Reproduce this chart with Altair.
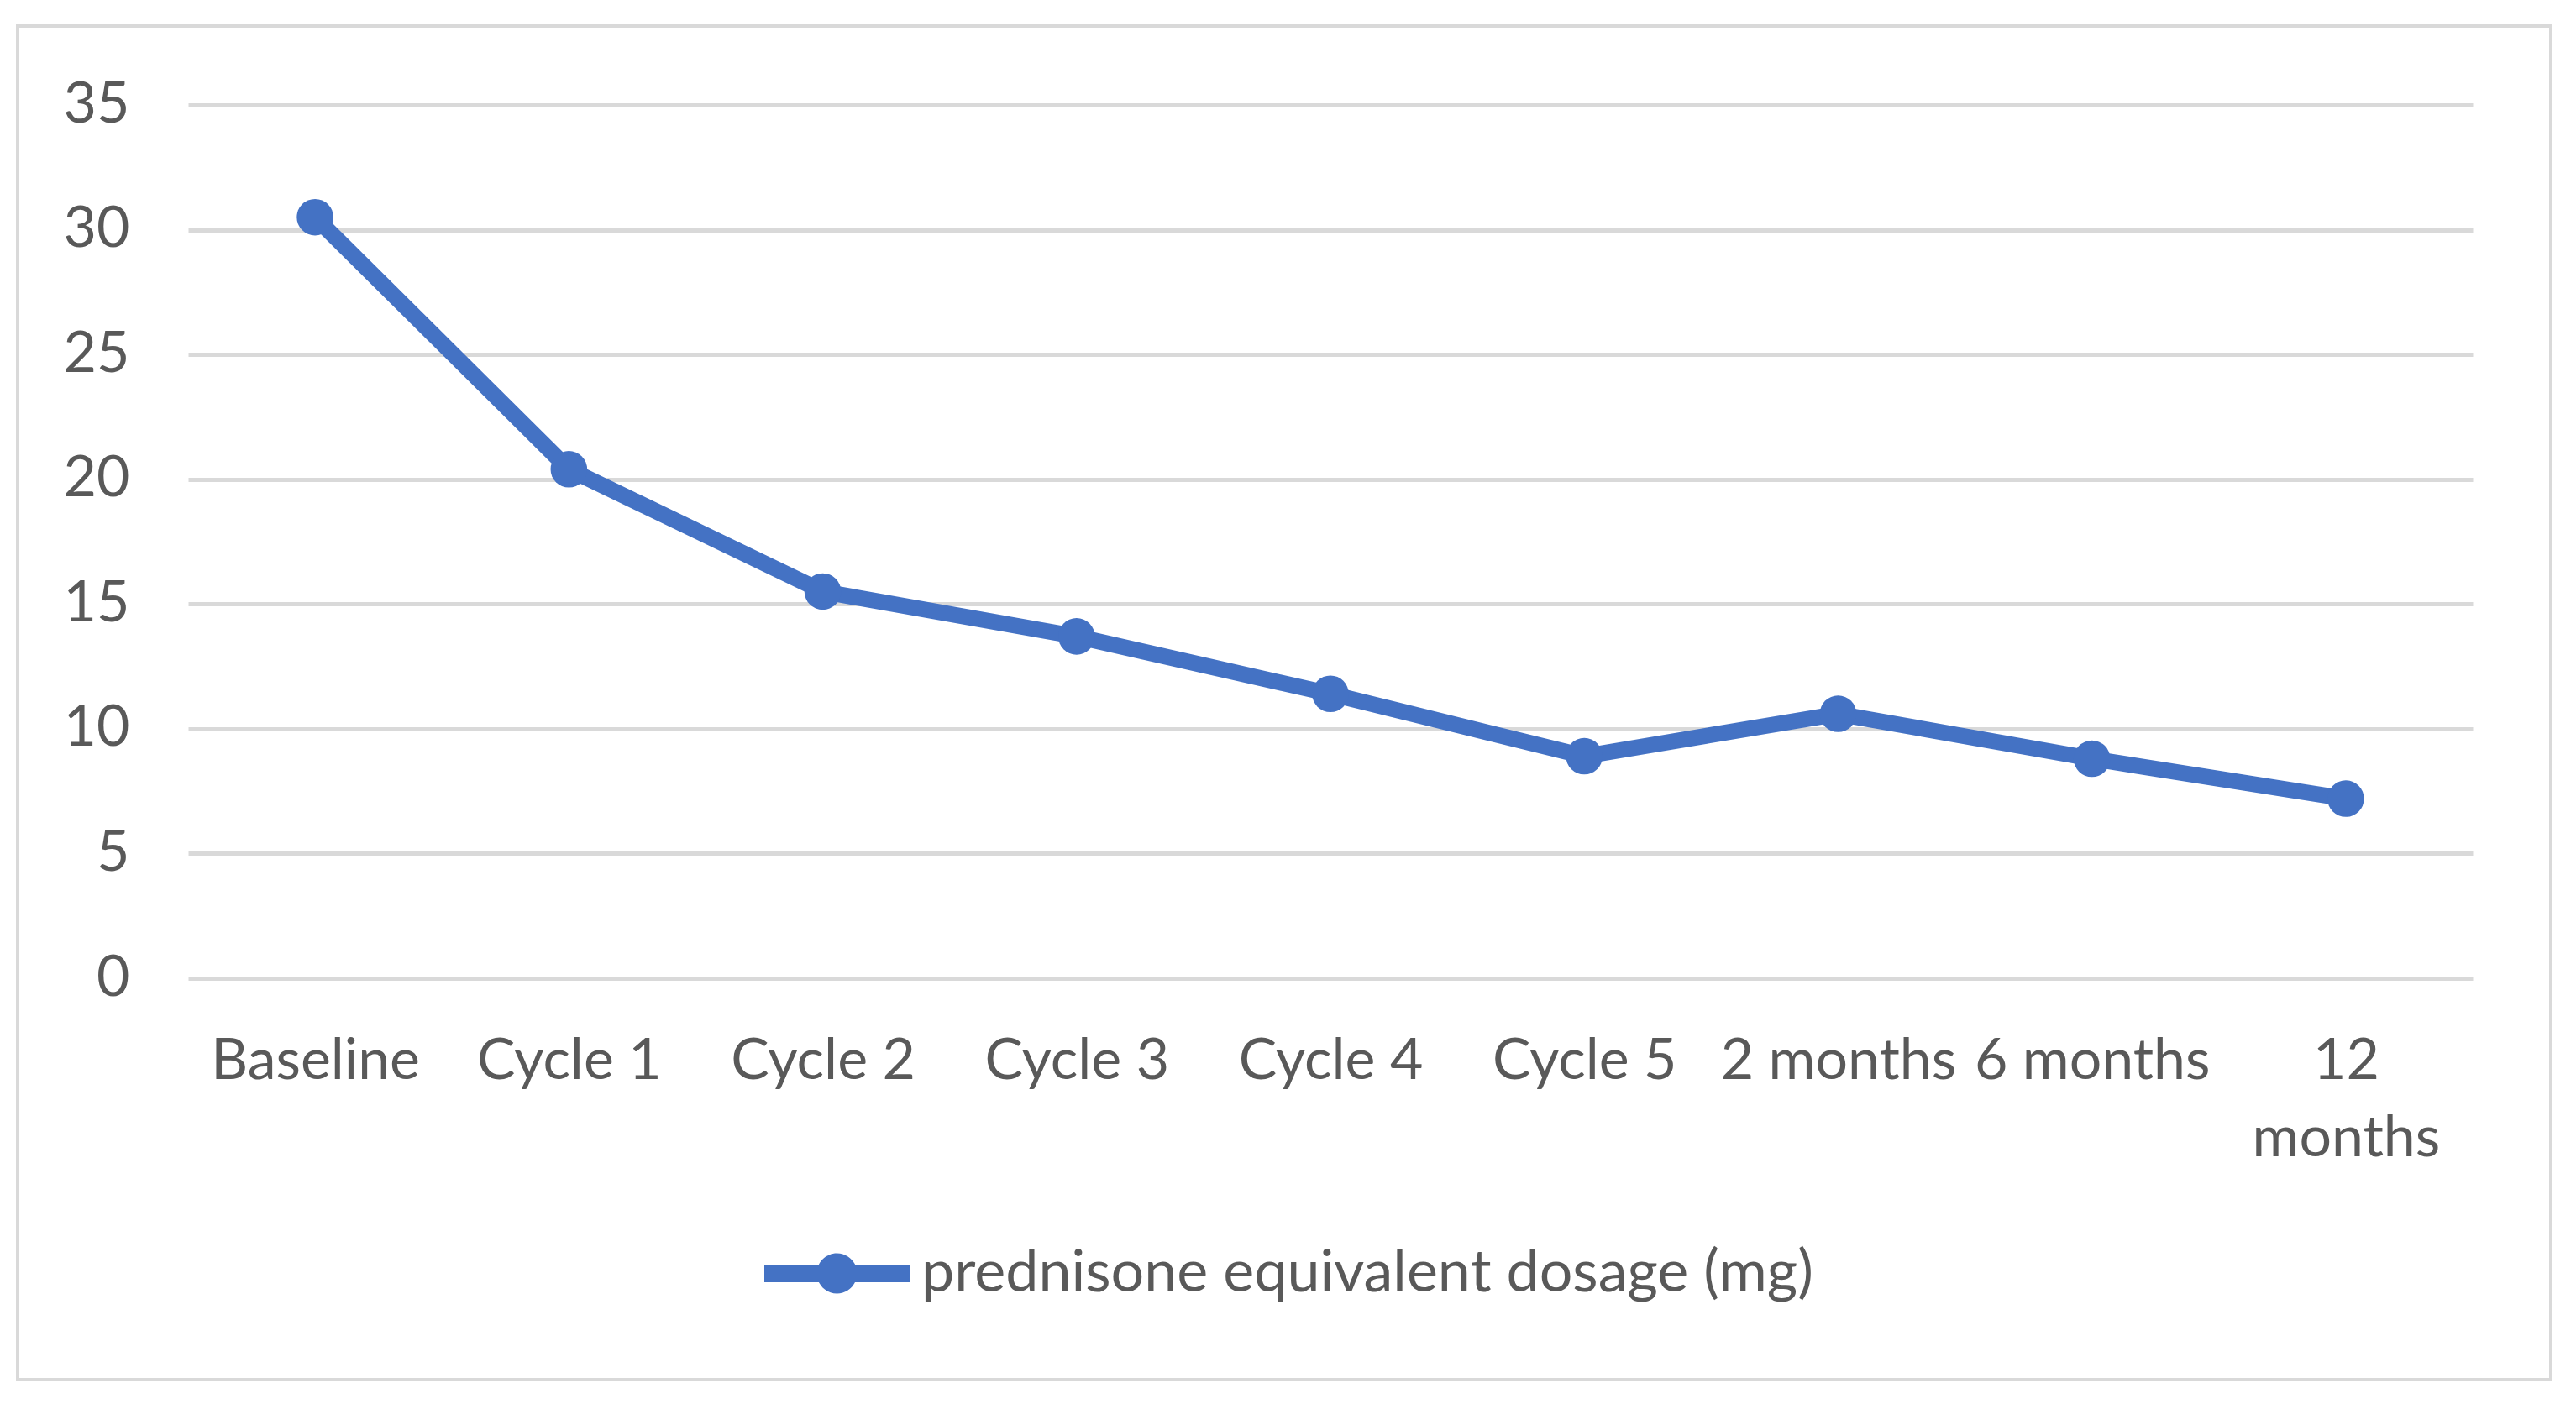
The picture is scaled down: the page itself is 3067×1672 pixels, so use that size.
import altair as alt
import pandas as pd

categories = ["Baseline", "Cycle 1", "Cycle 2", "Cycle 3", "Cycle 4", "Cycle 5",
              "2 months", "6 months", "12 months"]
dosage = [30.5, 20.4, 15.5, 13.7, 11.4, 8.9, 10.6, 8.8, 7.2]
series_name = "prednisone equivalent dosage (mg)"
y_ticks = [0, 5, 10, 15, 20, 25, 30, 35]

df = pd.DataFrame({"time": categories, "dose": dosage, "series": [series_name] * len(categories)})

BLUE = "#4472C4"
TEXT = "#595959"
GRID = "#D9D9D9"
FONT = "Lato"

legend_path = ("M-1,-0.12 L1,-0.12 L1,0.12 L-1,0.12 Z "
               "M-0.277,0 A0.277,0.277 0 1,1 0.277,0 A0.277,0.277 0 1,1 -0.277,0 Z")

x_enc = alt.X("time:N", sort=categories, title=None,
              scale=alt.Scale(paddingInner=0, paddingOuter=0),
              axis=alt.Axis(domain=False, ticks=False, tickSize=0, grid=False,
                            labelAngle=0, labelFontSize=68, labelColor=TEXT, labelFont=FONT,
                            labelPadding=65, labelLimit=600, labelOverlap=False,
                            labelLineHeight=92, labelBaseline="top",
                            labelExpr="datum.label == '12 months' ? ['12', 'months'] : datum.label"))
y_enc = alt.Y("dose:Q", title=None,
              scale=alt.Scale(domain=[0, 35], nice=False),
              axis=alt.Axis(values=y_ticks, domain=False, ticks=False, tickSize=0,
                            grid=True, gridColor=GRID, gridWidth=5,
                            labelFontSize=68, labelColor=TEXT, labelFont=FONT,
                            labelPadding=70))
color_enc = alt.Color("series:N", title=None,
                      scale=alt.Scale(range=[BLUE]),
                      legend=alt.Legend(orient="none", legendX=686, legendY=1305,
                                        symbolType=legend_path, symbolSize=29929,
                                        symbolFillColor=BLUE, symbolStrokeWidth=0,
                                        symbolOpacity=1, labelFontSize=70, labelColor=TEXT,
                                        labelFont=FONT, labelOffset=14, labelLimit=2000,
                                        padding=0, title=None))

base = alt.Chart(df).encode(x=x_enc, y=y_enc, color=color_enc)
line = base.mark_line(strokeWidth=19)
points = base.mark_point(filled=True, size=1900, opacity=1, shape="circle")

frame = alt.Chart(pd.DataFrame({"a": [0]})).mark_rect(
    fill=None, stroke=GRID, strokeWidth=4
).encode(x=alt.value(-203), x2=alt.value(2813), y=alt.value(-94), y2=alt.value(1518))

chart = alt.layer(frame, line, points).properties(
    width=2720, height=1040,
    autosize=alt.AutoSizeParams(type="none"),
    padding={"left": 216, "top": 117, "right": 100, "bottom": 480},
    background="white",
).configure_view(stroke=None)

chart.save("out.html", embed_options={"renderer": "svg", "actions": False})
